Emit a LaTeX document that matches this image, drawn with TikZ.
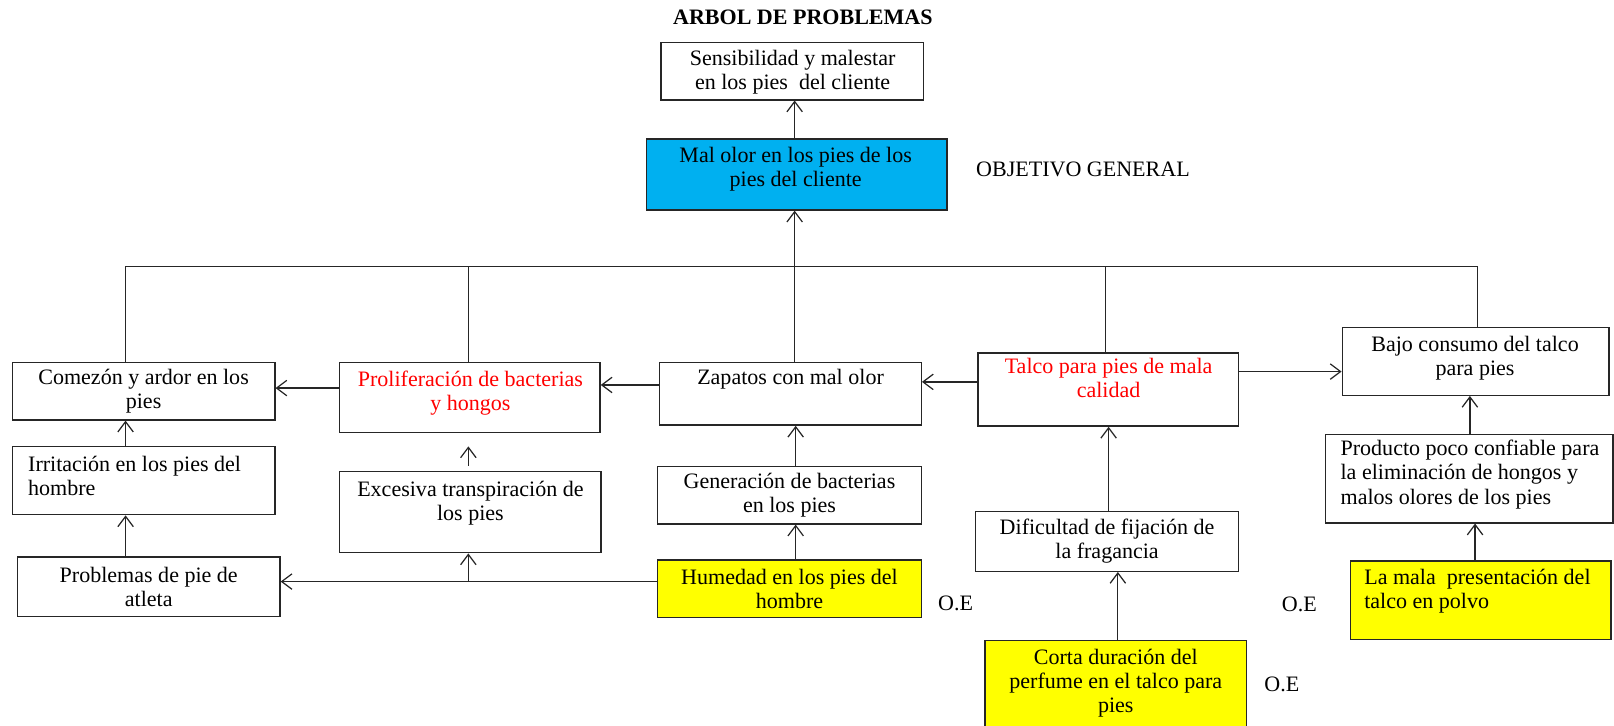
\documentclass[tikz,border=0pt]{standalone}
\usepackage{fontspec}
\setmainfont{Liberation Serif}
\usetikzlibrary{fit,arrows.meta}
\definecolor{objblue}{HTML}{00B0F0}
\definecolor{oeyellow}{HTML}{FFFF00}
\definecolor{redtxt}{HTML}{FF0000}
\tikzset{
  box/.style={draw=black!85, line width=0.65pt, inner sep=0pt},
  txt/.style={inner sep=0pt, align=center, font=\fontsize{10.7}{11.75}\selectfont},
  ltxt/.style={txt, align=left, anchor=west},
  arr/.style={-{Straight Barb[length=5pt,width=7.5pt]}, line width=0.6pt, draw=black!85},
  ln/.style={line width=0.6pt, draw=black!85}
}
\begin{document}
\begin{tikzpicture}[x=0.5pt,y=-0.5pt]
\useasboundingbox (0,0) rectangle (1568,705);
% title
\node[txt, font=\fontsize{10.7}{11.75}\selectfont\bfseries] (title) at (780,17) {ARBOL DE PROBLEMAS};
% top
\node[box, fit={(642,41) (897,97)}] (sens) {};
\node[txt] (senst) at (770,70.5) {Sensibilidad y malestar\\en los pies\ \ del cliente};
\node[box, fit={(628,135) (920,204)}, fill=objblue] (mal) {};
\node[txt] (malt) at (773,164.5) {Mal olor en los pies de los\\pies del cliente};
\node[ltxt] (obj) at (948,165) {OBJETIVO GENERAL};
% row 1
\node[box, fit={(12,352) (267,408)}] (com) {};
\node[txt] (comt) at (139.5,380) {Comezón y ardor en los\\pies};
\node[box, fit={(330,352) (583,420)}] (prol) {};
\node[txt, text=redtxt] (prolt) at (457,382) {Proliferación de bacterias\\y hongos};
\node[box, fit={(641,352) (895,413)}] (zap) {};
\node[txt] (zapt) at (768,368) {Zapatos con mal olor};
\node[box, fit={(950,343) (1203,414)}] (talco) {};
\node[txt, text=redtxt] (talcot) at (1077,367) {Talco para pies de mala\\calidad};
\node[box, fit={(1304,318) (1563,384)}] (bajo) {};
\node[txt] (bajot) at (1433,348) {Bajo consumo del talco\\para pies};
% row 2
\node[box, fit={(12,434) (267,500)}] (irr) {};
\node[ltxt] (irrt) at (27,462) {Irritación en los pies del\\hombre};
\node[box, fit={(330,458) (584,537)}] (exc) {};
\node[txt] (exct) at (457,488.5) {Excesiva transpiración de\\los pies};
\node[box, fit={(639,453) (895,509)}] (gen) {};
\node[txt] (gent) at (767,481) {Generación de bacterias\\en los pies};
\node[box, fit={(948,497) (1203,555)}] (dif) {};
\node[txt] (dift) at (1075.5,526) {Dificultad de fijación de\\la fragancia};
\node[box, fit={(1288,422) (1567,508)}] (prod) {};
\node[ltxt] (prodt) at (1302,461) {Producto poco confiable para\\la eliminación de hongos y\\malos olores de los pies};
% row 3
\node[box, fit={(17,541) (272,599)}] (prob) {};
\node[txt] (probt) at (144.5,570.5) {Problemas de pie de\\atleta};
\node[box, fit={(639,544) (895,600)}, fill=oeyellow] (hum) {};
\node[txt] (humt) at (767,572) {Humedad en los pies del\\hombre};
\node[ltxt] (oe1) at (911,586) {O.E};
\node[box, fit={(1312,545) (1565,621)}, fill=oeyellow] (lamala) {};
\node[ltxt] (lamalat) at (1325,574) {La mala\ \ presentación del\\talco en polvo};
\node[ltxt] (oe2) at (1245,587) {O.E};
\node[box, fit={(957,622) (1211,715)}, fill=oeyellow] (corta) {};
\node[txt] (cortat) at (1084,664) {Corta duración del\\perfume en el talco para\\pies};
\node[ltxt] (oe3) at (1228,665) {O.E};
% connectors
\coordinate (hL) at (122,259);
\coordinate (hR) at (1435,259);
\coordinate (mx) at (772,0);
\draw[arr] (mal.north -| mx) -- (sens.south -| mx);
\draw[arr] (zap.north -| mx) -- (mal.south -| mx);
\draw[ln] (com.north -| hL) -- (hL) -- (hR) -- (bajo.north -| hR);
\draw[ln] (prol.north -| 455,0) -- (hL -| 455,0);
\draw[ln] (talco.north -| 1074,0) -- (hL -| 1074,0);
\draw[arr] (prol.west |- 0,377) -- (com.east |- 0,377);
\draw[arr] (zap.west |- 0,374) -- (prol.east |- 0,374);
\draw[arr] (talco.west |- 0,371) -- (zap.east |- 0,371);
\draw[arr] (talco.east |- 0,361) -- (bajo.west |- 0,361);
\draw[arr] (irr.north -| hL) -- (com.south -| hL);
\draw[arr] (prob.north -| hL) -- (irr.south -| hL);
\draw[arr, shorten <=2.5pt, shorten >=6.5pt] (exc.north -| 455,0) -- (prol.south -| 455,0);
\coordinate (hy) at (0,565);
\draw[arr] (hum.west |- hy) -- (prob.east |- hy);
\draw[arr] (hy -| 455,0) -- (exc.south -| 455,0);
\draw[arr] (gen.north -| 773,0) -- (zap.south -| 773,0);
\draw[arr] (hum.north -| 773,0) -- (gen.south -| 773,0);
\draw[arr] (dif.north -| 1077,0) -- (talco.south -| 1077,0);
\draw[arr] (corta.north -| 1086,0) -- (dif.south -| 1086,0);
\draw[arr] (prod.north -| 1428,0) -- (bajo.south -| 1428,0);
\draw[arr] (lamala.north -| 1433,0) -- (prod.south -| 1433,0);
\end{tikzpicture}
\end{document}
